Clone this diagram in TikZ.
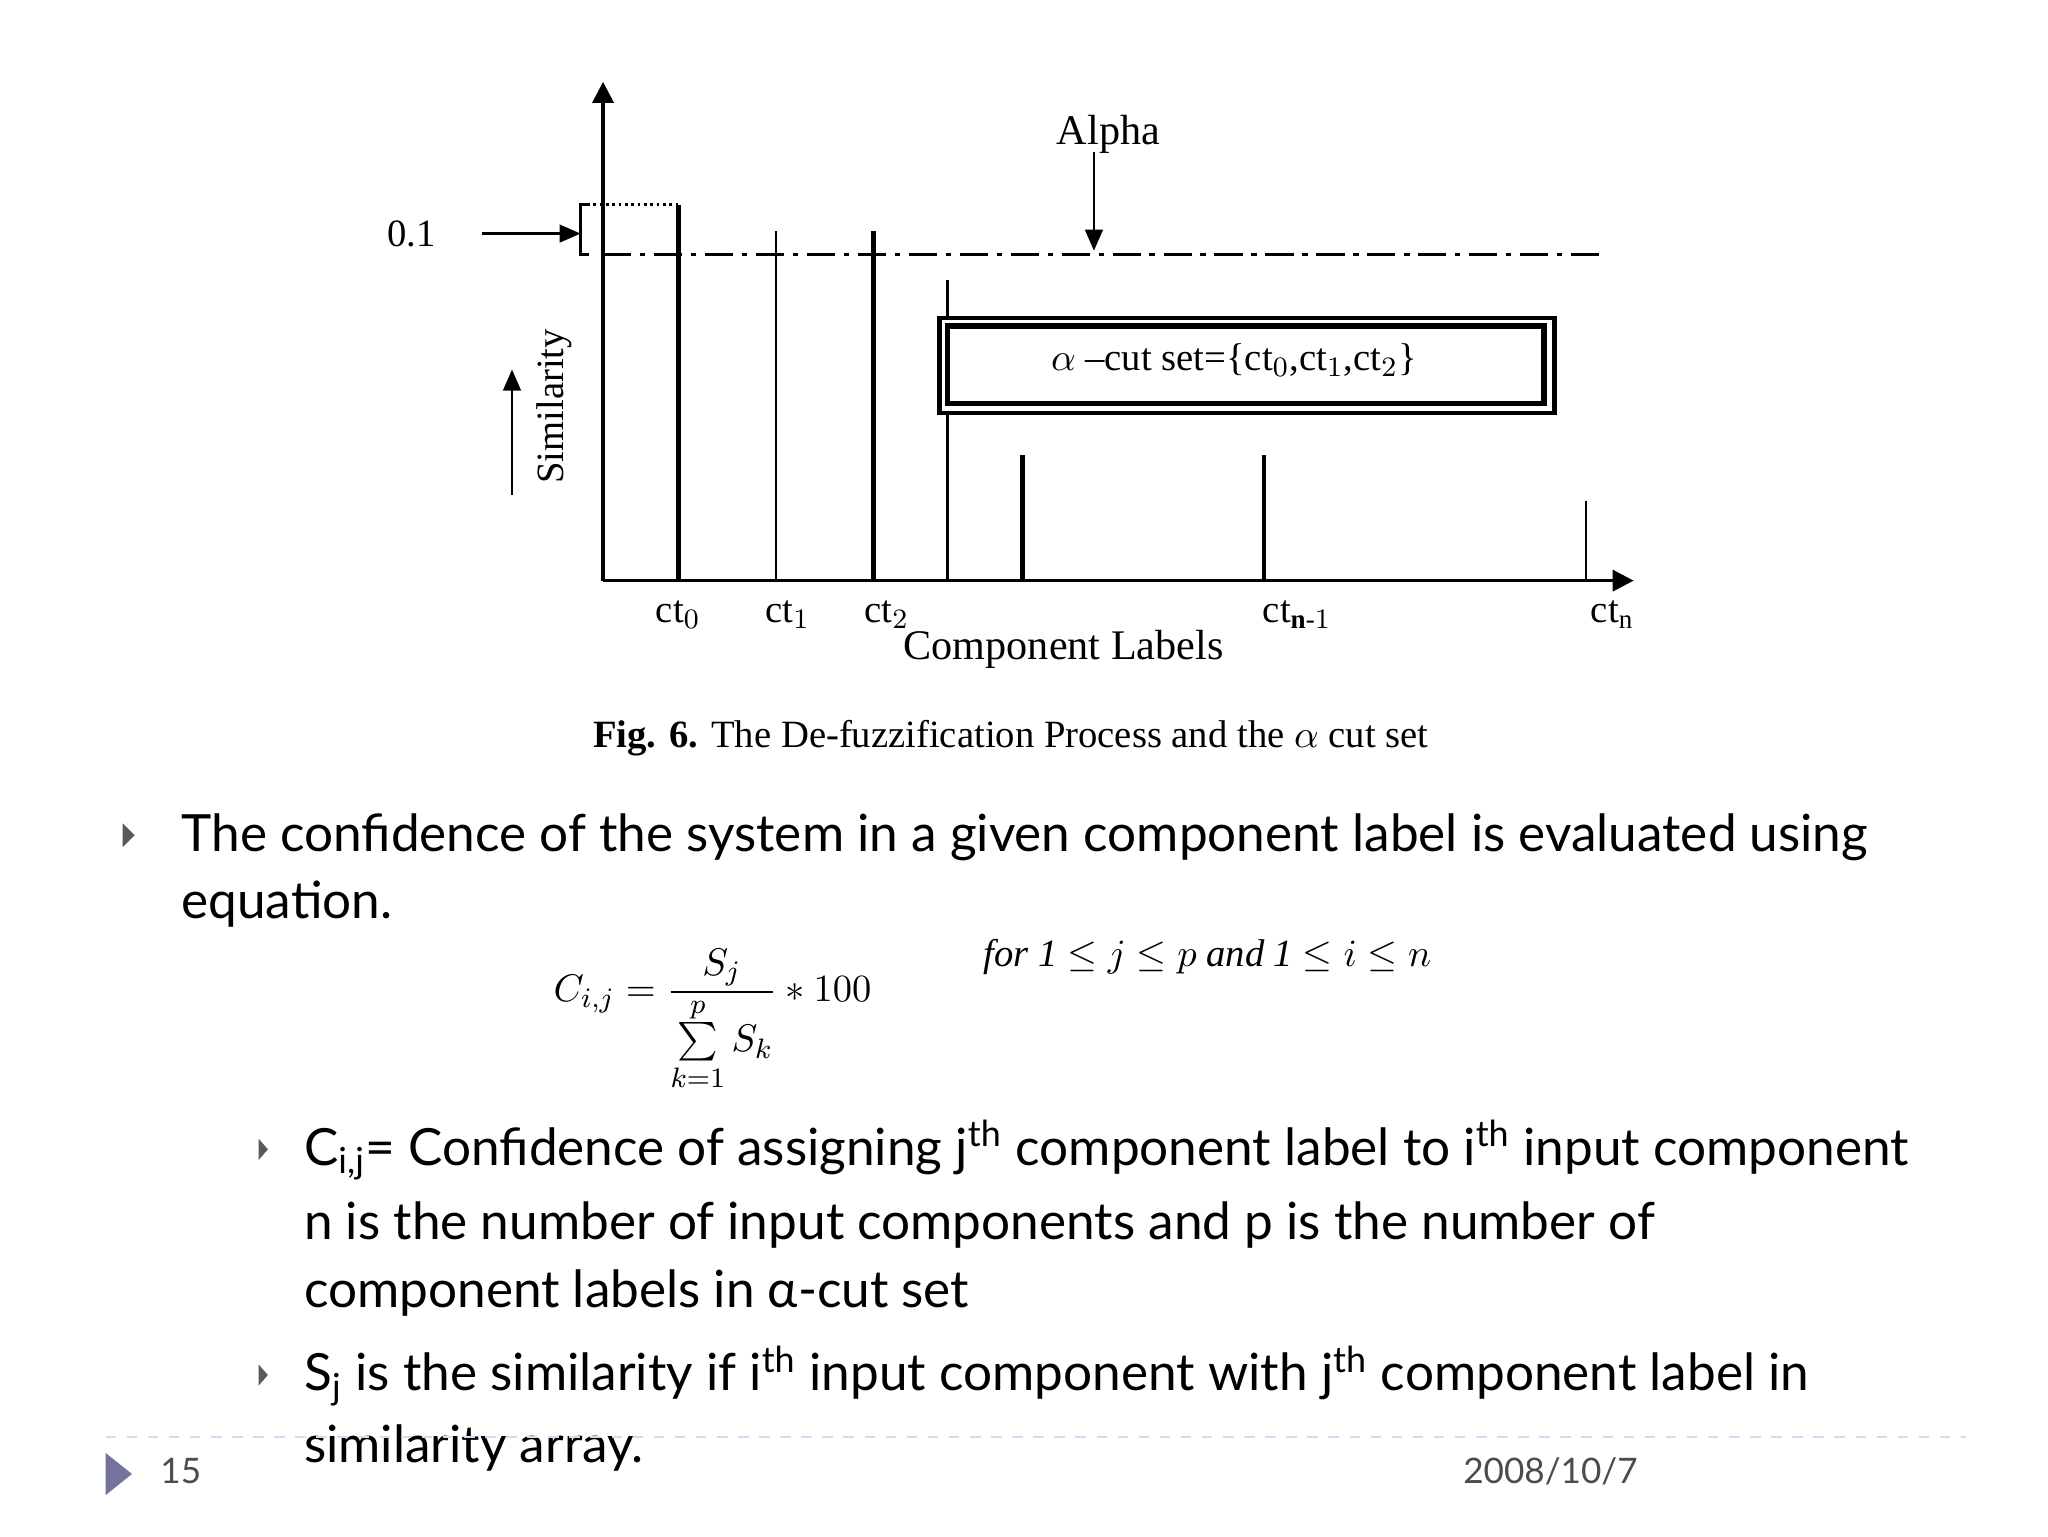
\documentclass[tikz,border=0pt]{standalone}
\usepackage{fontspec}
\usepackage{amsmath}
\setmainfont{Liberation Serif}
\newfontfamily\slide{Lato}
\usetikzlibrary{arrows.meta}
\begin{document}
\begin{tikzpicture}[x=0.013196cm,y=-0.013196cm,
  bar/.style={line width=1.3pt},
  thinbar/.style={line width=0.6pt},
  lab/.style={font=\fontsize{11}{13}\selectfont},
  body/.style={font=\slide\fontsize{14.6}{19}\selectfont,anchor=base west,inner sep=0},
  bul/.style={fill=black!65,draw=none},
  ax/.style={line width=1pt,-{Triangle[length=6pt,width=6pt]}}]
\useasboundingbox (0,0) rectangle (1552,1164);
% axes
\coordinate (o) at (457,440);
\coordinate (ytop) at (457,62);
\coordinate (xend) at (1238,440);
\draw[ax] (o) -- (ytop);
\draw[ax] (o) -- (xend);
\coordinate (dl) at (457,193); \coordinate (dr) at (1218,193);
\draw[line width=0.9pt,dash pattern=on 8pt off 2.5pt on 1.5pt off 2.5pt] (dl) -- (dr);
% bars
\draw[bar] (514,440) -- (514,155);
\draw[thinbar] (588,440) -- (588,175);
\draw[bar] (662,440) -- (662,175);
\draw[thinbar] (718,440) -- (718,212);
\draw[bar] (775,440) -- (775,345);
\draw[bar] (958,440) -- (958,345);
\draw[thinbar] (1202,440) -- (1202,380);
% bracket
\draw[densely dotted,line width=0.8pt] (440,155) -- (514,155);
\draw[line width=0.8pt] (446,155) -- (440,155) -- (440,193) -- (446,193);
\node[lab] (p1) at (312,177) {0.1};
\coordinate (pa) at (440,177);
\draw[line width=0.8pt,-{Triangle[length=6pt,width=5pt]}] (365,177) -- (pa);
\node[lab,font=\fontsize{12}{14}\selectfont] (alpha) at (840,102) {Alpha};
\coordinate (ab) at (829,190);
\draw[line width=0.8pt,-{Triangle[length=6pt,width=5pt]}] (829,115) -- (ab);
% box
\draw[line width=1.2pt,fill=white] (712,241) rectangle (1178,313);
\draw[line width=1.5pt] (718,247) rectangle (1170,306);
\node[lab] (cut) at (935,273) {$\alpha$ --cut set=\{ct$_0$,ct$_1$,ct$_2$\}};
% similarity
\node[lab,rotate=90] (sim) at (420,308) {Similarity};
\coordinate (st) at (388,280);
\draw[line width=0.8pt,-{Triangle[length=6pt,width=5pt]}] (388,375) -- (st);
% labels
\node[lab] (c0) at (514,466) {ct$_0$};
\node[lab] (c1) at (597,466) {ct$_1$};
\node[lab] (c2) at (672,466) {ct$_2$};
\node[lab] (cn1) at (983,466) {ct$_{\mathbf{n}\text{-}1}$};
\node[lab] (cn) at (1222,466) {ct$_\mathrm{n}$};
\node[lab,font=\fontsize{12}{14}\selectfont] (cl) at (806,492) {Component Labels};
\node[lab] (cap) at (766,559) {\textbf{Fig. 6.} The De-fuzzification Process and the $\alpha$ cut set};
% text
\fill[bul] (93,624) -- (102,633) -- (93,642) -- cycle;
\node[body] (t1) at (137,645) {The confidence of the system in a given component label is evaluated using};
\node[body] (t2) at (137,696) {equation.};
\node[font=\fontsize{11}{13}\selectfont] (eq) at (540,773) {$C_{i,j}=\dfrac{S_j}{\sum\limits_{k=1}^{p}S_k}*100$};
\node[font=\fontsize{11}{13}\selectfont\itshape] (for) at (915,725) {for 1 $\le j \le p$ and 1 $\le i \le n$};
\fill[bul] (196,863) -- (203,871) -- (196,879) -- cycle;
\node[body] (s1) at (230,883) {C$_{\text{i,j}}$= Confidence of assigning j$^{\text{th}}$ component label to i$^{\text{th}}$ input component};
\node[body] (s2) at (230,939) {n is the number of input components and p is the number of};
\node[body] (s3) at (230,991) {component labels in α-cut set};
\fill[bul] (196,1034) -- (203,1042) -- (196,1050) -- cycle;
\node[body] (s4) at (230,1054) {S$_{\text{j}}$ is the similarity if i$^{\text{th}}$ input component with j$^{\text{th}}$ component label in};
\node[body] (s5) at (230,1108) {similarity array.};
% footer
\coordinate (fl) at (80,1089); \coordinate (fr) at (1490,1089);
\draw[dashed,color=black!25!blue!15!white,line width=0.6pt] (fl) -- (fr);
\fill[color=blue!30!black!55!white] (80,1101) -- (100,1117) -- (80,1133) -- cycle;
\node[font=\slide\fontsize{10}{12}\selectfont,text=black!70] (pg) at (137,1115) {15};
\node[font=\slide\fontsize{10}{12}\selectfont,text=black!70] (dt) at (1175,1115) {2008/10/7};
\end{tikzpicture}
\end{document}
